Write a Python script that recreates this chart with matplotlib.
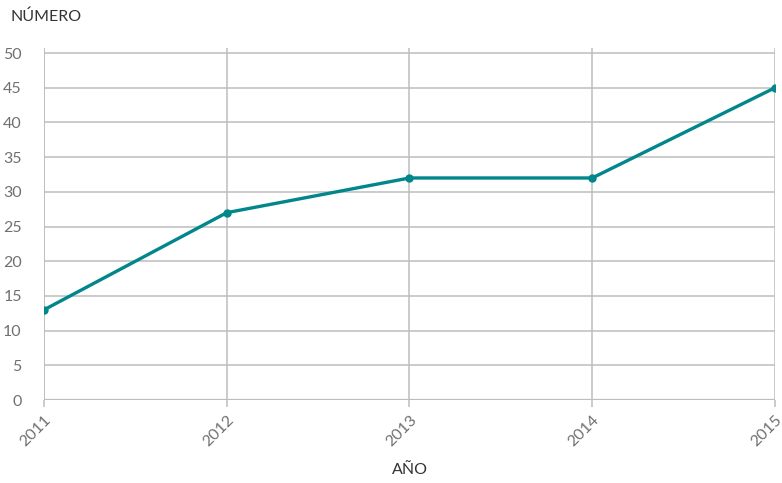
import matplotlib.pyplot as plt

# ================= DATA =================
years = ["2011", "2012", "2013", "2014", "2015"]
values = [13, 27, 32, 32, 45]
y_ticks = [0, 5, 10, 15, 20, 25, 30, 35, 40, 45, 50]
# ========================================

plt.rcParams["font.family"] = ["Lato", "DejaVu Sans"]

fig = plt.figure(figsize=(7.82, 4.83), dpi=100)
ax = fig.add_axes([0.0563, 0.1718, 0.9347, 0.7298])

x = list(range(len(years)))
ax.plot(x, values, color="#00868b", linewidth=2.4, marker="o",
        markersize=5, zorder=3, solid_capstyle="round")

ax.set_xlim(x[0], x[-1])
ax.set_ylim(0, 50.8)
ax.set_yticks(y_ticks)
ax.set_xticks(x)
ax.set_xticklabels(years, rotation=45, ha="right", rotation_mode="anchor")

grid_col = "#bdbdbd"
ax.grid(True, color=grid_col, linewidth=1.1)
ax.set_axisbelow(True)
for s in ax.spines.values():
    s.set_visible(False)
ax.axhline(0, color=grid_col, linewidth=1.6, zorder=1)
ax.axvline(x[0], color=grid_col, linewidth=1.1, zorder=1)

ax.tick_params(axis="y", length=0, pad=16, labelsize=11.5, labelcolor="#707070")
ax.tick_params(axis="x", length=5, color=grid_col, width=1.1, pad=4,
               labelsize=11.5, labelcolor="#707070")

fig.text(10 / 782, 1 - 17 / 483, "NÚMERO", fontsize=11.5, color="#333333",
         ha="left", va="center")
fig.text(410 / 782, 1 - 470 / 483, "AÑO", fontsize=11.5, color="#333333",
         ha="center", va="center")

fig.savefig("out.png", dpi=100)
